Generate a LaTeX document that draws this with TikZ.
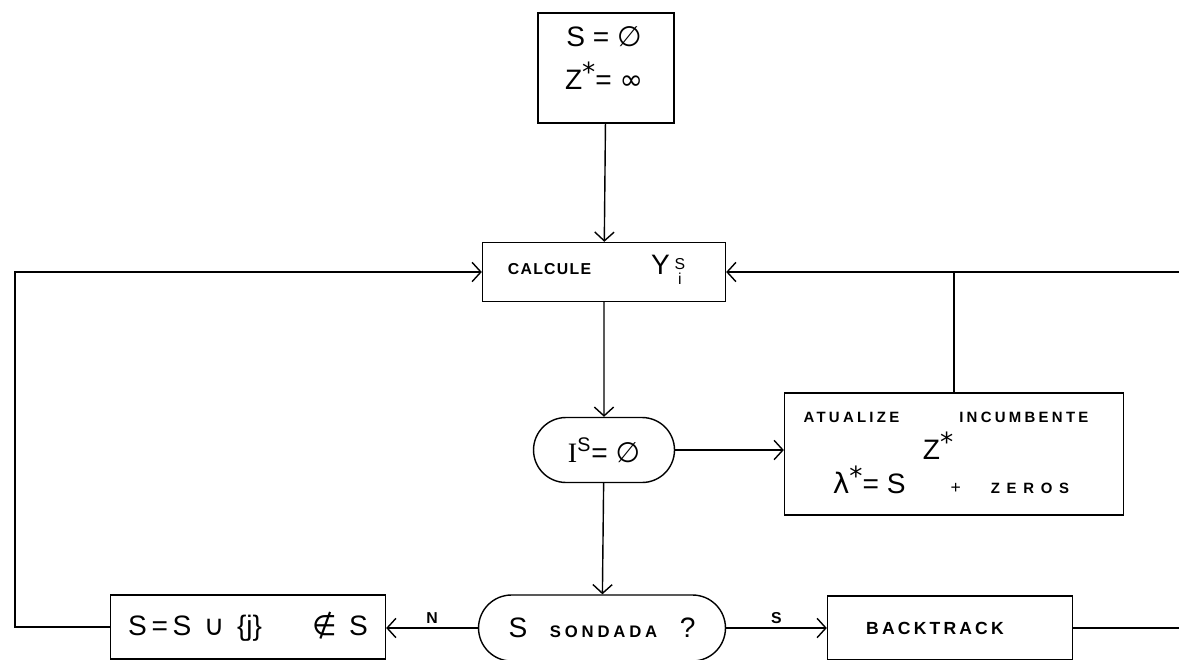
\documentclass[tikz,border=0pt]{standalone}
\usepackage{fontspec}
\setmainfont{Liberation Sans}
\newfontfamily\symf{DejaVu Sans}
\newfontfamily\serf{Liberation Serif}
\usepackage{tikz}
\usetikzlibrary{arrows.meta,shapes.misc}
\newcommand\spc[2]{{\addfontfeature{LetterSpace=#1}#2}}
\newcommand\supsub[2]{\raisebox{-0.2ex}{\fontsize{9}{9}\selectfont
  \begin{tabular}{@{}c@{}}#1\\[-1pt]#2\end{tabular}}}
\newcommand\starsym{\raisebox{0.55ex}{\fontsize{15}{15}\selectfont\symf *}}
\tikzset{
 fc_node/.style = {align=center, inner sep=0pt, text centered,
    line width=0.8pt, font=\fontsize{16}{20}\selectfont},
  fc_box/.style = {fc_node, rectangle, draw=black, fill=white},% caixa de processo
  fc_test/.style = {fc_node, rounded rectangle, draw=black, fill=white},% teste
  fc_txt/.style = {inner sep=0pt, align=center, font=\fontsize{16}{20}\selectfont},% texto solto
  fc_lbl/.style = {inner sep=2pt, font=\bfseries\fontsize{9}{10}\selectfont}% rotulo S/N
}

\begin{document}
\begin{tikzpicture}[x=0.02cm, y=-0.02cm, line width=0.8pt,
  ->, >={Straight Barb[length=5pt,width=11pt]}]
  \clip (0,0) rectangle (1179,659);
  \fill[white] (0,0) rectangle (1179,659);

  \node [fc_box, minimum width=2.72cm, minimum height=2.2cm] (init) at (606,68) {};
  \node [fc_txt] (initTxt) at (604,58)
    {S = {\symf ∅}\\[5pt] Z\starsym= {\symf ∞}};
  \node [fc_box, minimum width=4.86cm, minimum height=1.18cm] (calc) at (604,272)
    {\spc{8}{\bfseries\fontsize{9}{10}\selectfont CALCULE}\hspace{1.2cm}Y\,\supsub{S}{i}\hspace{0.3cm}};
  \node [fc_test, minimum width=2.82cm, minimum height=1.3cm] (ins) at (604,450)
    {{\serf I}\textsuperscript{S}= {\symf ∅}};
  \node [fc_box, minimum width=6.78cm, minimum height=2.44cm] (upd) at (954,454) {};
  \node [inner sep=0pt, font=\bfseries\fontsize{8.5}{10}\selectfont] (updTitle) at (946,417)
    {\spc{22}{ATUALIZE}\hspace{1.2cm}\spc{22}{INCUMBENTE}};
  \node [fc_txt] (updZ) at (938,446) {Z\starsym};
  \node [fc_txt] (updEq) at (951,480)
    {{\symf λ}\starsym= S\hspace{0.9cm}{\fontsize{10}{10}\selectfont+}\hspace{0.6cm}%
     \spc{45}{\bfseries\fontsize{8.5}{10}\selectfont ZEROS}};
  \node [fc_test, minimum width=4.94cm, minimum height=1.32cm] (sond) at (602,628)
    {S\hspace{0.45cm}\spc{23}{\bfseries\fontsize{9.5}{10}\selectfont SONDADA}\hspace{0.45cm}?};
  \node [fc_box, minimum width=5.5cm, minimum height=1.28cm] (add) at (248,627)
    {S\,=\,S\hspace{0.25cm}{\symf ∪}\hspace{0.25cm}\{j\}\hspace{1.0cm}{\symf ∉}\hspace{0.25cm}S};
  \node [fc_box, minimum width=4.9cm, minimum height=1.28cm] (back) at (950,628)
    {\spc{18}{\bfseries\fontsize{10}{10}\selectfont BACKTRACK}\hspace{0.6cm}};

  \coordinate (lx) at (15,0);
  \coordinate (rx) at (1179,0);

  \draw (init) -- (calc);
  \draw (calc) -- (ins);
  \draw (ins.east) -- (ins.east -| upd.west);
  \draw (ins) -- (sond);
  \draw (sond.west) -- node [fc_lbl, above] (lblN) {N} (add.east |- sond.west);
  \draw (sond.east) -- node [fc_lbl, above] (lblS) {S} (back.west);
  \draw [-] (back.east) -- (back.east -| rx);
  \draw (calc.east -| rx) -- (calc.east);
  \draw [-] (upd.north) -- (upd.north |- calc.east);
  \draw (add.west) -- (add.west -| lx) |- (calc.west);
\end{tikzpicture}
\end{document}
